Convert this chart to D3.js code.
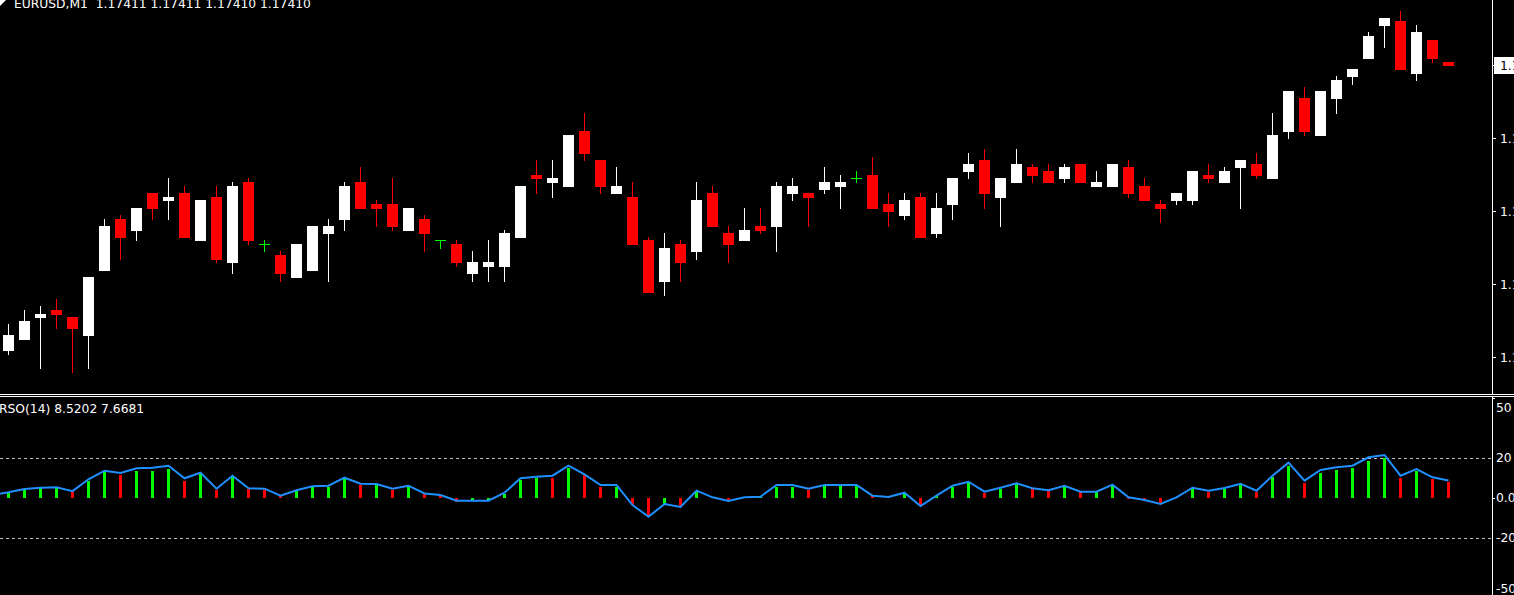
<!DOCTYPE html>
<head>
  <meta charset="utf-8">
  <script src="https://d3js.org/d3.v7.min.js"></script>
  <style>
    body {
      margin:0;position:fixed;top:0;right:0;bottom:0;left:0;
      background-color: black;
      overflow: hidden;
    }
    text {
      font-family: "DejaVu Sans", sans-serif;
      font-size: 12.3px;
      white-space: pre;
    }
  </style>
</head>

<body>
  <script>
    // chart data (EURUSD M1, last 91 bars)
    var symbolTitle = "EURUSD,M1";
    var opens = [1.17332,1.17335,1.17341,1.17343,1.17341,1.17336,1.17354,1.17368,1.17365,1.17375,
      1.17373,1.17375,1.17362,1.17374,1.17356,1.17378,1.17361,1.17358,1.17352,1.17354,
      1.17364,1.17368,1.17378,1.17372,1.17372,1.17365,1.17368,1.17362,1.17361,1.17353,
      1.17355,1.17355,1.17363,1.17380,1.17378,1.17377,1.17392,1.17384,1.17375,1.17374,
      1.17362,1.17351,1.17361,1.17359,1.17375,1.17364,1.17362,1.17366,1.17366,1.17375,
      1.17375,1.17376,1.17377,1.17379,1.17380,1.17372,1.17369,1.17374,1.17364,1.17372,
      1.17381,1.17384,1.17374,1.17378,1.17382,1.17381,1.17379,1.17383,1.17377,1.17377,
      1.17382,1.17377,1.17372,1.17373,1.17373,1.17380,1.17378,1.17382,1.17383,1.17379,
      1.17392,1.17401,1.17391,1.17401,1.17407,1.17412,1.17421,1.17422,1.17408,1.17417,
      1.17411];
    var highs = [1.17339,1.17343,1.17344,1.17346,1.17341,1.17352,1.17368,1.17369,1.17371,1.17375,
      1.17379,1.17377,1.17373,1.17377,1.17378,1.17379,1.17362,1.17359,1.17361,1.17366,
      1.17368,1.17378,1.17382,1.17373,1.17379,1.17371,1.17369,1.17362,1.17362,1.17359,
      1.17362,1.17365,1.17377,1.17384,1.17384,1.17391,1.17397,1.17384,1.17382,1.17378,
      1.17363,1.17364,1.17362,1.17378,1.17377,1.17366,1.17371,1.17371,1.17378,1.17379,
      1.17375,1.17382,1.17380,1.17381,1.17385,1.17375,1.17375,1.17375,1.17375,1.17379,
      1.17386,1.17387,1.17379,1.17387,1.17383,1.17383,1.17383,1.17383,1.17381,1.17383,
      1.17384,1.17379,1.17373,1.17375,1.17381,1.17383,1.17382,1.17384,1.17386,1.17397,
      1.17403,1.17404,1.17403,1.17407,1.17409,1.17419,1.17423,1.17425,1.17421,1.17417,
      1.17411];
    var lows = [1.17331,1.17335,1.17327,1.17338,1.17326,1.17327,1.17354,1.17357,1.17362,1.17368,
      1.17368,1.17363,1.17362,1.17356,1.17353,1.17361,1.17359,1.17351,1.17352,1.17354,
      1.17351,1.17365,1.17371,1.17366,1.17365,1.17365,1.17359,1.17360,1.17355,1.17351,
      1.17351,1.17351,1.17363,1.17375,1.17374,1.17377,1.17384,1.17375,1.17375,1.17361,
      1.17348,1.17347,1.17351,1.17357,1.17366,1.17356,1.17362,1.17364,1.17359,1.17373,
      1.17366,1.17375,1.17371,1.17378,1.17371,1.17366,1.17368,1.17363,1.17363,1.17368,
      1.17379,1.17371,1.17366,1.17378,1.17378,1.17378,1.17378,1.17378,1.17377,1.17377,
      1.17374,1.17373,1.17367,1.17372,1.17372,1.17378,1.17378,1.17371,1.17379,1.17379,
      1.17390,1.17391,1.17391,1.17397,1.17405,1.17412,1.17415,1.17409,1.17406,1.17411,
      1.17410];
    var closes = [1.17336,1.17340,1.17342,1.17342,1.17338,1.17352,1.17366,1.17363,1.17371,1.17371,
      1.17374,1.17363,1.17373,1.17357,1.17377,1.17362,1.17361,1.17353,1.17361,1.17366,
      1.17366,1.17377,1.17371,1.17371,1.17366,1.17371,1.17364,1.17362,1.17356,1.17356,
      1.17356,1.17364,1.17377,1.17379,1.17379,1.17391,1.17386,1.17377,1.17377,1.17361,
      1.17348,1.17360,1.17356,1.17373,1.17366,1.17361,1.17365,1.17365,1.17377,1.17377,
      1.17374,1.17378,1.17378,1.17379,1.17371,1.17370,1.17373,1.17363,1.17371,1.17379,
      1.17383,1.17375,1.17379,1.17383,1.17380,1.17378,1.17382,1.17378,1.17378,1.17383,
      1.17375,1.17373,1.17371,1.17375,1.17381,1.17379,1.17381,1.17384,1.17380,1.17391,
      1.17403,1.17392,1.17403,1.17406,1.17409,1.17418,1.17423,1.17409,1.17419,1.17412,
      1.17410];

    // RSO(14): histogram buffer, its direction, and the signal line
    var rsoHist = [2.4,4.1,4.6,4.6,2.75,8.4,12.9,11.25,13.25,13.25,
      14.25,8.4,11.6,3.75,10.4,4.25,3.75,0.9,3.25,5.1,
      5.4,9.4,6.25,6.25,3.75,5.4,2.0,1.25,-2.0,-1.6,
      -1.6,2.0,8.75,9.9,9.9,14.9,11.25,5.4,5.4,-3.75,
      -9.6,-3.25,-4.75,3.4,-0.4,-1.75,0.25,0.4,5.4,5.4,
      3.75,5.9,5.9,6.25,1.1,0.25,2.4,-4.25,0.9,5.4,
      7.4,2.4,4.4,6.6,4.6,3.25,5.4,2.6,2.6,5.9,
      -0.5,-1.6,-3.25,0.3,4.4,2.9,4.4,6.25,2.75,10.4,
      15.75,7.4,12.4,13.75,14.9,18.4,19.9,9.9,13.4,9.4,
      7.6681];
    var rsoDir = [1,1,1,1,-1,1,1,-1,1,1,
      1,-1,1,-1,1,-1,-1,-1,1,1,
      1,1,-1,1,-1,1,-1,-1,-1,1,
      1,1,1,1,-1,1,-1,-1,1,-1,
      -1,1,-1,1,-1,-1,1,1,1,1,
      -1,1,1,1,-1,-1,1,-1,1,1,
      1,-1,1,1,-1,-1,1,-1,1,1,
      -1,-1,-1,1,1,-1,1,1,-1,1,
      1,-1,1,1,1,1,1,-1,1,-1,
      -1];
    var rsoLine = [2.6,4.2,4.9,5.1,3.2,9.1,13.4,12.25,14.6,14.9,
      15.9,9.6,12.4,4.4,10.9,4.6,4.4,0.9,3.6,5.6,
      5.9,9.9,6.9,6.75,4.4,5.9,2.0,1.25,-1.6,-1.6,
      -1.6,2.4,9.6,10.4,10.9,15.9,11.6,6.25,6.25,-3.75,
      -9.6,-3.25,-4.75,3.4,0.1,-1.75,0.1,0.4,6.25,6.25,
      4.4,6.25,6.25,6.25,0.9,0.25,2.4,-4.25,0.9,5.9,
      7.9,2.9,4.9,7.1,4.6,3.6,5.9,2.9,2.9,6.4,
      0.1,-1.25,-3.25,0.1,4.9,3.4,4.75,6.9,3.4,10.9,
      17.4,8.4,13.75,15.1,15.9,20.1,21.25,10.9,14.25,10.1,
      8.5202];
    var rsoBefore = 1.3; // value of the bar just left of the window

    var priceTicks = [1.17410, 1.17390, 1.17370, 1.17350, 1.17330];
    var rsoTicks = [50, 20, 0, -20, -50];
    var rsoTickLabels = ["50", "20", "0.00", "-20", "-50"];
    var rsoLevels = [20, -20];

    var W = 1514, H = 595;
    var axisX = 1492;

    var svg = d3.select("body").append("svg")
      .attr("width", W)
      .attr("height", H)
      .style("display", "block")
      .style("background-color", "black");

    var x = d3.scaleLinear()
      .domain([0, opens.length - 1])
      .range([8.5, 8.5 + 16 * (opens.length - 1)]);

    // 1 point = 3.65px
    var y = d3.scaleLinear()
      .domain([1.17410, 1.17330])
      .range([65.3, 65.3 + 80 * 3.65]);

    var yr = d3.scaleLinear()
      .domain([50, -50])
      .range([397.5, 597.5]);

    var bars = opens.map(function(o, i) {
      return {i: i, o: o, h: highs[i], l: lows[i], c: closes[i]};
    });

    function barColor(d) {
      if (d.c > d.o) return "#ffffff";
      if (d.c < d.o) return "#ff0000";
      return "#00ff00";
    }

    var main = svg.append("g").attr("shape-rendering", "crispEdges");

    // wicks
    main.selectAll(".wick").data(bars).enter()
      .append("rect")
      .attr("class", "wick")
      .attr("x", function(d) { return Math.floor(x(d.i)); })
      .attr("y", function(d) { return Math.round(y(d.h)); })
      .attr("width", 1)
      .attr("height", function(d) { return Math.round(y(d.l)) - Math.round(y(d.h)) + 1; })
      .style("fill", barColor);

    // bodies
    main.selectAll(".body").data(bars).enter()
      .append("rect")
      .attr("class", "body")
      .attr("x", function(d) { return x(d.i) - 5.5; })
      .attr("y", function(d) { return Math.round(y(Math.max(d.o, d.c))); })
      .attr("width", 11)
      .attr("height", function(d) {
        return Math.round(y(Math.min(d.o, d.c))) - Math.round(y(Math.max(d.o, d.c))) + 1;
      })
      .style("fill", barColor);

    // price scale
    svg.append("line")
      .attr("x1", axisX + 0.5).attr("x2", axisX + 0.5)
      .attr("y1", 0).attr("y2", 394)
      .style("stroke", "white");

    var yAxis = d3.axisRight(y)
      .tickValues(priceTicks)
      .tickSize(3)
      .tickFormat(d3.format(".5f"));

    var ya = svg.append("g")
      .attr("transform", "translate(" + (axisX + 1) + ",0)")
      .call(yAxis);
    ya.select(".domain").remove();
    ya.selectAll("line").style("stroke", "white").attr("shape-rendering", "crispEdges");
    ya.selectAll("text")
      .attr("x", 7)
      .attr("dy", "0.36em")
      .style("fill", "white")
      .style("font-family", "\"DejaVu Sans\", sans-serif")
      .style("font-size", "12.3px");

    // current price marker
    var lastClose = closes[closes.length - 1];
    svg.append("rect")
      .attr("x", axisX + 2)
      .attr("y", Math.round(y(lastClose)) - 8)
      .attr("width", 30)
      .attr("height", 17)
      .style("fill", "white");
    svg.append("text")
      .attr("x", axisX + 8)
      .attr("y", y(lastClose))
      .attr("dy", "0.36em")
      .style("fill", "black")
      .text(d3.format(".5f")(lastClose));

    // title
    svg.append("path")
      .attr("d", "M0,0 L6,0 L0,6 Z")
      .style("fill", "white");
    svg.append("text")
      .attr("x", 14)
      .attr("y", 7.5)
      .style("fill", "white")
      .text(symbolTitle + "  " + [opens, highs, lows, closes].map(function(a) {
        return d3.format(".5f")(a[a.length - 1]);
      }).join(" "));

    // window separator
    svg.append("line")
      .attr("x1", 0).attr("x2", W)
      .attr("y1", 394.5).attr("y2", 394.5)
      .style("stroke", "white");
    svg.append("line")
      .attr("x1", 0).attr("x2", W)
      .attr("y1", 396.5).attr("y2", 396.5)
      .style("stroke", "white");

    // indicator window
    var ind = svg.append("g");

    ind.selectAll(".level").data(rsoLevels).enter()
      .append("line")
      .attr("class", "level")
      .attr("x1", 0).attr("x2", axisX)
      .attr("y1", function(d) { return Math.round(yr(d)) + 0.5; })
      .attr("y2", function(d) { return Math.round(yr(d)) + 0.5; })
      .style("stroke", "#c0c0c0")
      .style("stroke-dasharray", "3,3");

    ind.selectAll(".hist").data(rsoHist).enter()
      .append("rect")
      .attr("class", "hist")
      .attr("shape-rendering", "crispEdges")
      .attr("x", function(d, i) { return x(i) - 1.5; })
      .attr("y", function(d) { return Math.min(yr(d), yr(0)); })
      .attr("width", 3)
      .attr("height", function(d) { return Math.abs(yr(d) - yr(0)); })
      .style("fill", function(d, i) { return rsoDir[i] > 0 ? "#00ff00" : "#ff0000"; });

    var linePts = [[-1, rsoBefore]].concat(rsoLine.map(function(v, i) { return [i, v]; }));
    ind.append("path")
      .datum(linePts)
      .attr("d", d3.line()
        .x(function(d) { return x(d[0]); })
        .y(function(d) { return yr(d[1]); }))
      .style("fill", "none")
      .style("stroke", "#1e90ff")
      .style("stroke-width", 2);

    svg.append("line")
      .attr("x1", axisX + 0.5).attr("x2", axisX + 0.5)
      .attr("y1", 397).attr("y2", H)
      .style("stroke", "white");

    ind.selectAll(".rtick").data([50, 0]).enter()
      .append("line")
      .attr("class", "rtick")
      .attr("x1", axisX + 1).attr("x2", axisX + 3)
      .attr("y1", function(d) { return Math.round(yr(d)) + 0.5; })
      .attr("y2", function(d) { return Math.round(yr(d)) + 0.5; })
      .style("stroke", "white");

    ind.selectAll(".rlabel").data(rsoTicks).enter()
      .append("text")
      .attr("class", "rlabel")
      .attr("x", axisX + 4)
      .attr("y", function(d) { return Math.max(411.5, Math.min(592.5, yr(d) + 4.5)); })
      .style("fill", "white")
      .text(function(d, i) { return rsoTickLabels[i]; });

    ind.append("text")
      .attr("x", -1)
      .attr("y", 412.5)
      .style("fill", "white")
      .text("RSO(14) " + d3.format(".4f")(rsoLine[rsoLine.length - 1]) + " " + d3.format(".4f")(rsoHist[rsoHist.length - 1]));
  </script>
</body>
